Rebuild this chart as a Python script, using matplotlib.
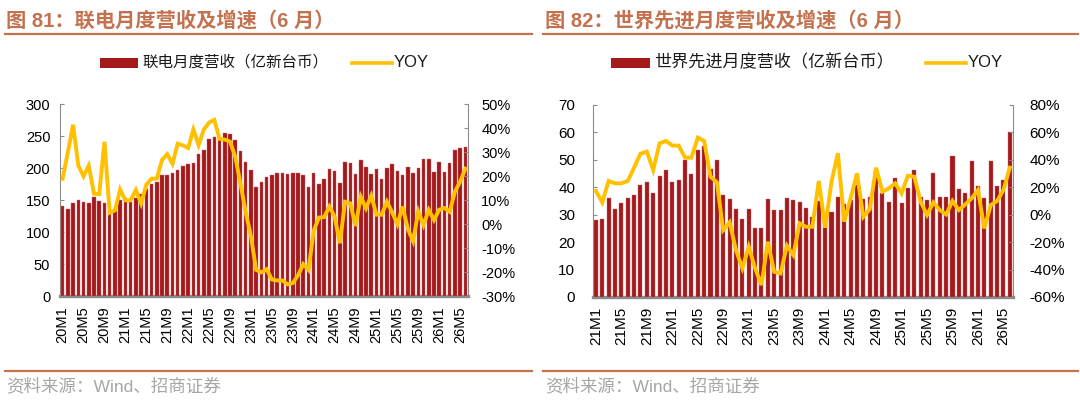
import matplotlib
matplotlib.use("Agg")
import matplotlib.pyplot as plt
from matplotlib.patches import Rectangle
from matplotlib.lines import Line2D
from matplotlib.ticker import FuncFormatter

# ---------------- data ----------------
# 联电 (UMC) monthly revenue, 20M1 .. 26M6, 亿新台币
umc_months = [f"{y}M{m}" for y in range(20, 27) for m in range(1, 13)][:78]
umc_rev = [141, 136, 146, 151, 148, 146, 155, 149, 146, 129, 133, 151,
           153, 148, 153, 160, 167, 175, 179, 189, 189, 193, 198, 204,
           206, 209, 222, 229, 246, 249, 248, 255, 254, 245, 227, 210,
           197, 171, 178, 186, 189, 192, 192, 191, 192, 193, 189, 171,
           192, 176, 183, 199, 196, 177, 210, 208, 191, 213, 202, 191,
           199, 183, 200, 206, 196, 190, 202, 193, 201, 214, 214, 194,
           210, 194, 209, 228, 231, 233]
umc_yoy = [19.0, 30.0, 41.5, 24.5, 20.0, 24.5, 12.7, 12.6, 34.4, 4.8, 5.8, 14.5,
           10.0, 10.0, 14.3, 8.7, 16.5, 19.0, 19.0, 26.8, 29.2, 25.2, 33.6, 32.9,
           31.8, 39.5, 33.0, 39.5, 42.4, 43.5, 35.6, 35.3, 34.5, 28.2, 17.0, 5.0,
           -5.0, -19.0, -20.0, -18.7, -23.0, -23.4, -23.4, -25.0, -24.5, -21.3, -16.6, -19.0,
           -2.7, 2.8, 3.0, 7.4, 3.2, -7.9, 9.4, 8.7, -0.7, 11.5, 6.7, 11.9,
           4.0, 4.0, 9.4, 5.0, 0.0, 7.4, -2.0, -7.0, 5.3, -0.3, 6.0, 1.8,
           6.1, 6.8, 5.2, 13.6, 17.8, 23.2]

# 世界先进 (VIS) monthly revenue, 21M1 .. 26M6, 亿新台币
vis_months = [f"{y}M{m}" for y in range(21, 27) for m in range(1, 13)][:66]
vis_rev = [28.1, 28.4, 36.1, 32.0, 34.4, 36.0, 37.2, 40.7, 41.8, 37.9, 44.0, 46.2,
           42.0, 42.6, 49.8, 45.0, 53.5, 55.2, 46.7, 50.0, 37.2, 35.7, 32.1, 28.3,
           32.1, 25.0, 25.3, 35.7, 31.6, 31.6, 36.0, 35.4, 34.5, 32.6, 29.3, 35.0,
           29.0, 31.1, 36.5, 34.0, 35.2, 41.0, 35.7, 36.5, 46.0, 37.8, 34.8, 43.3,
           34.1, 39.9, 46.3, 36.6, 35.4, 45.1, 36.5, 36.5, 51.4, 39.2, 37.8, 49.6,
           40.6, 36.0, 49.6, 40.6, 42.6, 60.3]
vis_yoy = [17.3, 9.0, 24.6, 22.9, 22.9, 24.6, 34.3, 44.5, 46.0, 32.6, 52.0, 53.8,
           50.4, 50.4, 41.6, 41.6, 56.2, 53.8, 27.7, 23.6, -11.2, -5.6, -25.8, -39.0,
           -23.4, -39.0, -51.3, -19.7, -41.6, -42.8, -22.6, -29.4, -6.3, -8.8, -8.8, 24.6,
           -9.5, 24.1, 44.8, -5.1, 11.9, 30.2, -1.5, 4.0, 34.3, 16.8, 19.2, 22.9,
           15.6, 28.5, 27.7, 9.5, -0.2, 9.0, 3.4, 0.2, 10.0, 3.4, 7.5, 11.9,
           18.0, -10.0, 7.0, 10.0, 18.0, 34.3]

# ---------------- style ----------------
W, H = 1080, 404
BAR = "#A3191C"
LINE = "#FFC000"
TITLE_C = "#C4714E"
GRAY = "#8C8C8C"
NUM_FONT = ["Liberation Sans", "DejaVu Sans"]
MIX_FONT = ["Liberation Sans", "Noto Sans CJK SC", "DejaVu Sans"]
CJK_FONT = ["Noto Sans CJK SC", "Liberation Sans", "DejaVu Sans"]

plt.rcParams["font.family"] = MIX_FONT

fig = plt.figure(figsize=(W / 100, H / 100), dpi=100)


def fx(px):
    return px / W


def fy(py):
    return 1 - py / H


def panel(x0, x1, ytop, ybot, months, rev, yoy, ylim, ystep, y2lim, y2step,
          lpad, rpad, fs, barw):
    ax = fig.add_axes([fx(x0), fy(ybot), fx(x1 - x0), (ybot - ytop) / H])
    n = len(rev)
    xs = list(range(n))
    ax.bar(xs, rev, width=barw, color=BAR, edgecolor="#C96A6A", linewidth=0.3, zorder=3)
    ax.set_xlim(-0.5, n - 0.5)
    ax.set_ylim(*ylim)
    ax.set_yticks(list(range(ylim[0], ylim[1] + 1, ystep)))
    ax.set_xticks(list(range(0, n, 4)))
    ax.set_xticklabels(months[::4], rotation=90, fontsize=fs, family=NUM_FONT)
    ax.tick_params(axis="x", length=0, pad=7)
    ax.tick_params(axis="y", direction="in", length=3, color=GRAY, pad=lpad,
                   labelsize=fs)
    for t in ax.get_yticklabels():
        t.set_family(NUM_FONT)
    for s in ("top", "right"):
        ax.spines[s].set_visible(False)
    ax.spines["left"].set_color(GRAY)
    ax.spines["bottom"].set_color("#8A8A8A")
    ax.spines["bottom"].set_linewidth(2.4)
    ax.spines["bottom"].set_zorder(1)

    ax2 = ax.twinx()
    ax2.plot(xs, yoy, color=LINE, linewidth=2.8, solid_joinstyle="miter", zorder=4)
    ax2.set_ylim(*y2lim)
    ax2.set_yticks(list(range(y2lim[0], y2lim[1] + 1, y2step)))
    ax2.yaxis.set_major_formatter(FuncFormatter(lambda v, p: f"{int(round(v))}%"))
    ax2.tick_params(axis="y", direction="in", length=3, color=GRAY, pad=rpad,
                    labelsize=fs)
    for t in ax2.get_yticklabels():
        t.set_family(NUM_FONT)
    for s in ("top", "left", "bottom"):
        ax2.spines[s].set_visible(False)
    ax2.spines["right"].set_color(GRAY)
    return ax, ax2


panel(60, 468, 104.3, 296.3, umc_months, umc_rev, umc_yoy,
      (0, 300), 50, (-30, 50), 10, 7, 9.5, 10.5, 0.68)
panel(592.7, 1013, 105, 297, vis_months, vis_rev, vis_yoy,
      (0, 70), 10, (-60, 80), 20, 12.5, 12, 11, 0.64)


# ---------------- titles / rules / legends / sources ----------------
def header(x, xl0, xl1, title):
    fig.text(fx(x), fy(21), title, color=TITLE_C, fontsize=14.6, fontweight="bold",
             va="center", ha="left", family=MIX_FONT)
    fig.add_artist(Line2D([fx(xl0), fx(xl1)], [fy(33.5), fy(33.5)],
                          color=TITLE_C, linewidth=1.6, transform=fig.transFigure))
    fig.add_artist(Line2D([fx(xl0), fx(xl1)], [fy(371), fy(371)],
                          color=TITLE_C, linewidth=1.6, transform=fig.transFigure))
    fig.text(fx(x), fy(386), "资料来源：Wind、招商证券", color="#A6A6A6",
             fontsize=12.6, va="center", ha="left", family=MIX_FONT)


header(6, 5, 532, "图 81：联电月度营收及增速（6 月）")
header(545, 543, 1078, "图 82：世界先进月度营收及增速（6 月）")


def legend(px0, px1, label, lfs, lx0, lx1):
    fig.add_artist(Rectangle((fx(px0), fy(67.7)), fx(px1 - px0), (67.7 - 58.3) / H,
                             facecolor=BAR, edgecolor="none", transform=fig.transFigure))
    fig.text(fx(px1 + 4), fy(62.5), label, fontsize=lfs, va="center", ha="left",
             family=CJK_FONT, color="#1A1A1A")
    fig.add_artist(Line2D([fx(lx0), fx(lx1)], [fy(62.5), fy(62.5)], color=LINE,
                          linewidth=2.6, transform=fig.transFigure))
    fig.text(fx(lx1 + 2), fy(62.5), "YOY", fontsize=12, va="center", ha="left",
             family=NUM_FONT, color="#1A1A1A")


legend(100, 138, "联电月度营收（亿新台币）", 11.2, 352, 392)
legend(611, 650, "世界先进月度营收（亿新台币）", 12.3, 926, 966)

fig.savefig("out.png", dpi=100)
